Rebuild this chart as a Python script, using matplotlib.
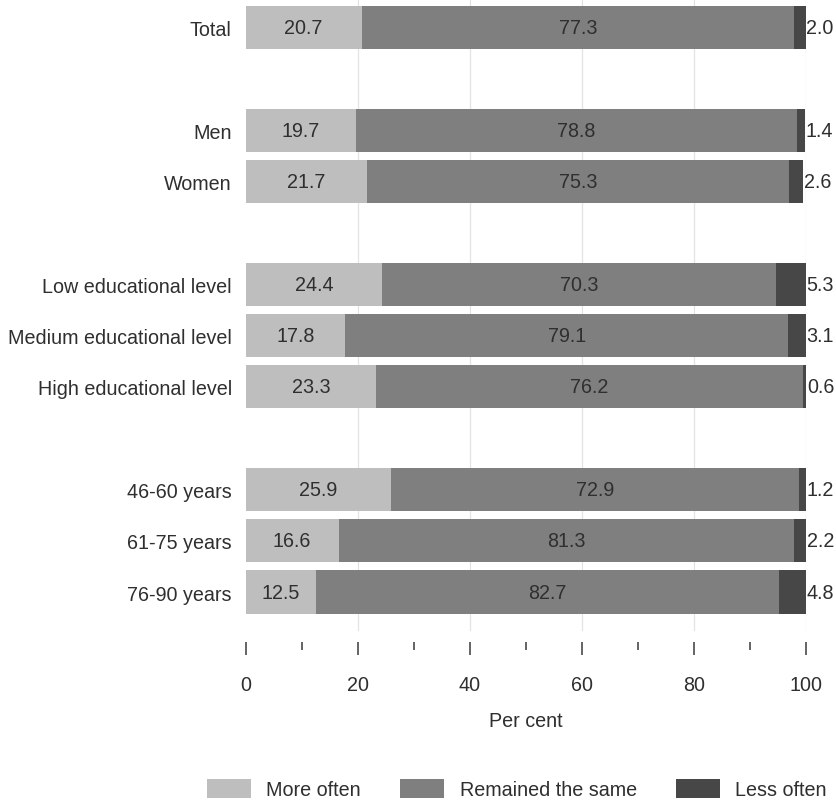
import numpy as np
import matplotlib.pyplot as plt
from matplotlib.ticker import MultipleLocator

plt.rcParams['font.family'] = ['Liberation Sans', 'DejaVu Sans']

# Data
groups = ['Total', 'Men', 'Women', 'Low educational level',
          'Medium educational level', 'High educational level',
          '46-60 years', '61-75 years', '76-90 years']
rows = [0, 2, 3, 5, 6, 7, 9, 10, 11]
more_often = [20.7, 19.7, 21.7, 24.4, 17.8, 23.3, 25.9, 16.6, 12.5]
same = [77.3, 78.8, 75.3, 70.3, 79.1, 76.2, 72.9, 81.3, 82.7]
less_often = [2.0, 1.4, 2.6, 5.3, 3.1, 0.6, 1.2, 2.2, 4.8]
series_names = ['More often', 'Remained the same', 'Less often']
colors = ['#bebebe', '#7f7f7f', '#474747']

W, H = 837, 803
fig = plt.figure(figsize=(W / 100, H / 100), dpi=100)
ax = fig.add_axes([245.7 / W, 1 - 632 / H, 560 / W, 632 / H])

y = np.array(rows)
more = np.array(more_often)
mid = np.array(same)
less = np.array(less_often)
h = 0.84
txt = '#2f2f2f'
fs = 14.2

ax.barh(y, more, height=h, color=colors[0], label=series_names[0], zorder=2)
ax.barh(y, mid, left=more, height=h, color=colors[1], label=series_names[1], zorder=2)
ax.barh(y, less, left=more + mid, height=h, color=colors[2], label=series_names[2], zorder=2)

for yi, a, b, c in zip(y, more, mid, less):
    ax.text(a / 2, yi, f'{a:.1f}', ha='center', va='center', fontsize=fs, color=txt)
    ax.text(a + b / 2, yi, f'{b:.1f}', ha='center', va='center', fontsize=fs, color=txt)
    ax.text(a + b + c + 0.1, yi, f'{c:.1f}', ha='left', va='center', fontsize=fs,
            color=txt, clip_on=False)

ax.set_xlim(0, 100)
ax.set_ylim(11.76, -0.556)
ax.set_yticks(rows)
ax.set_yticklabels(groups, fontsize=fs, color=txt)
ax.tick_params(axis='y', length=0, pad=10)

ax.xaxis.set_major_locator(MultipleLocator(20))
ax.xaxis.set_minor_locator(MultipleLocator(10))
ax.tick_params(axis='x', which='major', length=9, width=1.1, color='#3a3a3a',
               labelsize=fs, labelcolor=txt, pad=15)
ax.tick_params(axis='x', which='minor', length=6, width=1.1, color='#3a3a3a')
ax.spines['bottom'].set_position(('outward', 8))
for s in ax.spines.values():
    s.set_visible(False)

# vertical grid at the major ticks, none at zero
for gx in [20, 40, 60, 80, 100]:
    ax.axvline(gx, color='#e3e3e3', linewidth=0.9, zorder=0)
ax.set_xlabel('Per cent', fontsize=fs, color=txt, labelpad=12)

fig.legend(loc='center', bbox_to_anchor=(517 / W, 1 - 790 / H), ncol=3,
           frameon=False, fontsize=fs, handlelength=2.2, handleheight=1.1,
           handletextpad=0.8, columnspacing=2.0, labelcolor=txt)

fig.savefig('out.png', dpi=100)
